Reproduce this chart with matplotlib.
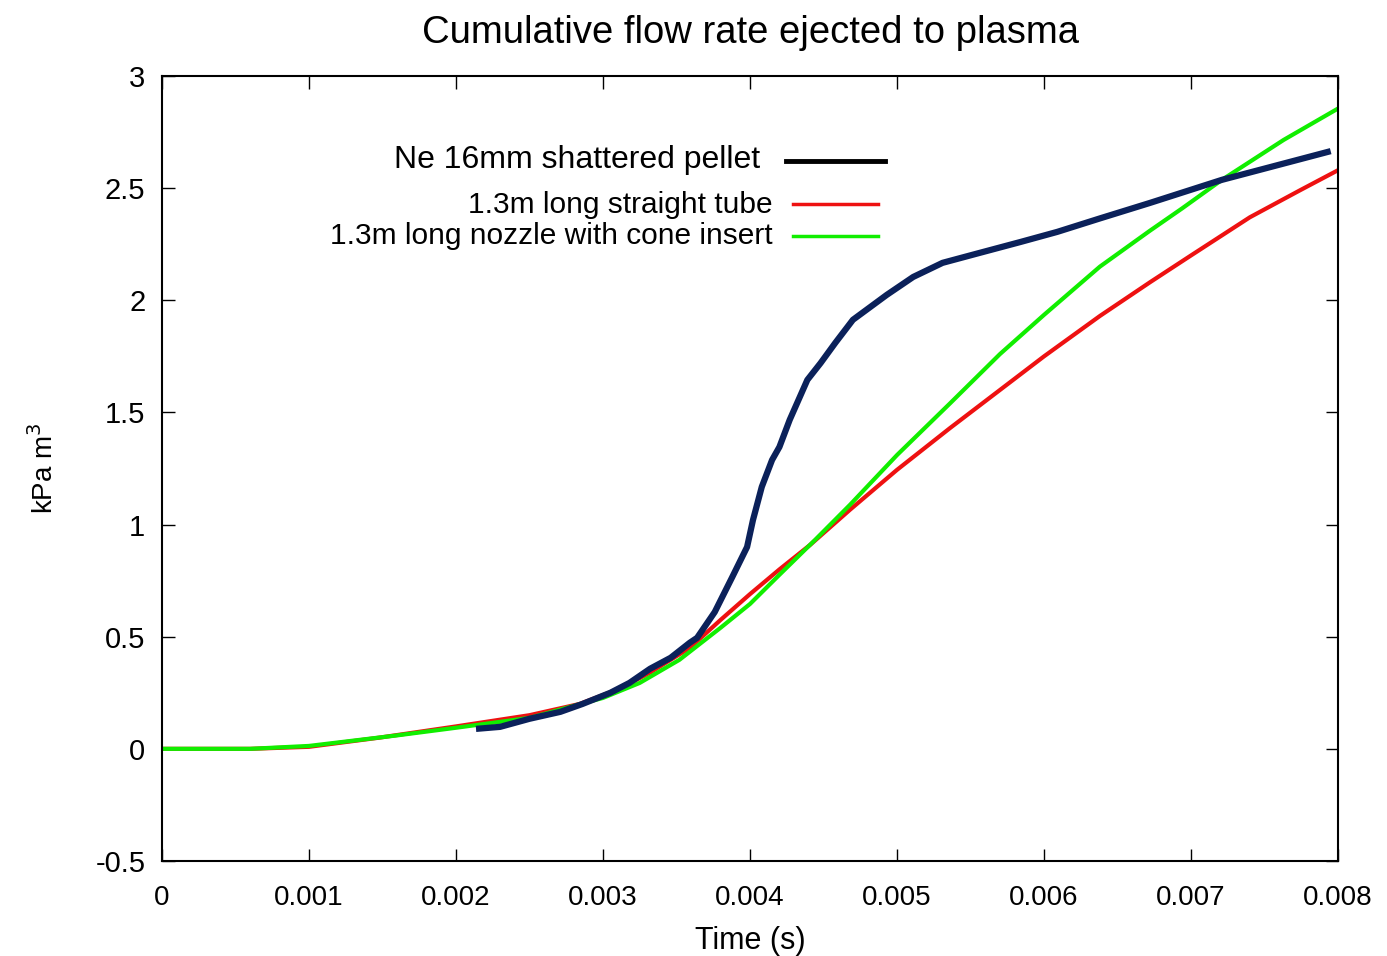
import matplotlib
matplotlib.use("Agg")
import matplotlib.pyplot as plt
from matplotlib.lines import Line2D

plt.rcParams['font.family'] = ['Liberation Sans', 'DejaVu Sans']

# Data (time in s, cumulative flow in kPa m^3)
tube_t = [0.0, 0.0006, 0.001, 0.00148, 0.002, 0.0025, 0.00284, 0.00312, 0.00332,
          0.00359, 0.0038, 0.004, 0.0042, 0.00441, 0.00468, 0.005, 0.00536, 0.0057,
          0.006, 0.00638, 0.00672, 0.007, 0.0074, 0.00774, 0.008]
tube_y = [0.0, 0.0, 0.009, 0.05, 0.10, 0.15, 0.20, 0.27, 0.34,
          0.45, 0.575, 0.69, 0.80, 0.91, 1.066, 1.244, 1.43, 1.60,
          1.75, 1.93, 2.08, 2.20, 2.37, 2.49, 2.58]

cone_t = [0.0, 0.0006, 0.001, 0.0016, 0.002, 0.0025, 0.003, 0.00325, 0.00352,
          0.0038, 0.004, 0.0042, 0.00444, 0.00468, 0.005, 0.00536, 0.0057, 0.006,
          0.00638, 0.00672, 0.00694, 0.00721, 0.00763, 0.008]
cone_y = [0.0, 0.0, 0.013, 0.06, 0.094, 0.138, 0.227, 0.294, 0.397,
          0.54, 0.646, 0.776, 0.93, 1.088, 1.31, 1.54, 1.76, 1.935,
          2.15, 2.31, 2.41, 2.537, 2.715, 2.855]

pellet_t = [0.002136, 0.0023, 0.0025, 0.00271, 0.00286, 0.00305, 0.00318, 0.00332,
            0.00346, 0.00359, 0.00364, 0.00376, 0.00388, 0.00398, 0.00402, 0.00408,
            0.00415, 0.0042, 0.00427, 0.00439, 0.00448, 0.00458, 0.0047, 0.00493,
            0.00511, 0.00531, 0.00556, 0.00584, 0.00609, 0.00638, 0.00672, 0.00721,
            0.00795]
pellet_y = [0.089, 0.098, 0.134, 0.165, 0.20, 0.25, 0.294, 0.357,
            0.406, 0.473, 0.495, 0.61, 0.767, 0.90, 1.02, 1.168,
            1.288, 1.346, 1.467, 1.645, 1.72, 1.81, 1.913, 2.024,
            2.104, 2.167, 2.211, 2.26, 2.305, 2.365, 2.434, 2.537,
            2.665]

labels = ["Ne 16mm shattered pellet", "1.3m long straight tube",
          "1.3m long nozzle with cone insert"]
xticks = [0, 0.001, 0.002, 0.003, 0.004, 0.005, 0.006, 0.007, 0.008]
xticklabels = ["0", "0.001", "0.002", "0.003", "0.004", "0.005", "0.006", "0.007", "0.008"]
yticks = [-0.5, 0, 0.5, 1, 1.5, 2, 2.5, 3]
yticklabels = ["-0.5", "0", "0.5", "1", "1.5", "2", "2.5", "3"]

fig = plt.figure(figsize=(13.87, 9.56), dpi=100)
ax = fig.add_axes([0.1168, 0.0994, 0.8479, 0.8211])

red = '#ee1111'
green = '#11ee00'
navy = '#0b215a'

ax.plot(tube_t, tube_y, color=red, lw=3.0, solid_capstyle='butt')
ax.plot(cone_t, cone_y, color=green, lw=3.0, solid_capstyle='butt')
ax.plot(pellet_t, pellet_y, color=navy, lw=4.5, solid_capstyle='butt', solid_joinstyle='round')

ax.set_xlim(0, 0.008)
ax.set_ylim(-0.5, 3)
ax.set_xticks(xticks)
ax.set_xticklabels(xticklabels)
ax.set_yticks(yticks)
ax.set_yticklabels(yticklabels)
ax.tick_params(direction='in', length=9, width=1.0, top=True, right=True)
ax.tick_params(axis='x', labelsize=20, pad=17)
ax.tick_params(axis='y', labelsize=21, pad=12)
for s in ax.spines.values():
    s.set_linewidth(1.5)

ax.set_title("Cumulative flow rate ejected to plasma", fontsize=27.5, pad=24)
ax.set_xlabel("Time (s)", fontsize=22)
ax.xaxis.set_label_coords(0.5, -0.083)
ax.set_ylabel("kPa m$^3$", fontsize=20)
ax.yaxis.set_label_coords(-0.088, 0.5)

# Manual legend
tr = ax.transAxes
ax.text(0.5085, 0.893, labels[0], transform=tr, ha='right', va='center', fontsize=23)
ax.add_line(Line2D([0.5306, 0.6148], [0.892, 0.892], transform=tr, color='black', lw=3.5))
ax.text(0.5196, 0.836, labels[1], transform=tr, ha='right', va='center', fontsize=21.5)
ax.add_line(Line2D([0.5366, 0.6088], [0.837, 0.837], transform=tr, color=red, lw=2.5))
ax.text(0.5196, 0.796, labels[2], transform=tr, ha='right', va='center', fontsize=21.5)
ax.add_line(Line2D([0.5366, 0.6088], [0.796, 0.796], transform=tr, color=green, lw=2.5))

fig.savefig("out.png", dpi=100)
